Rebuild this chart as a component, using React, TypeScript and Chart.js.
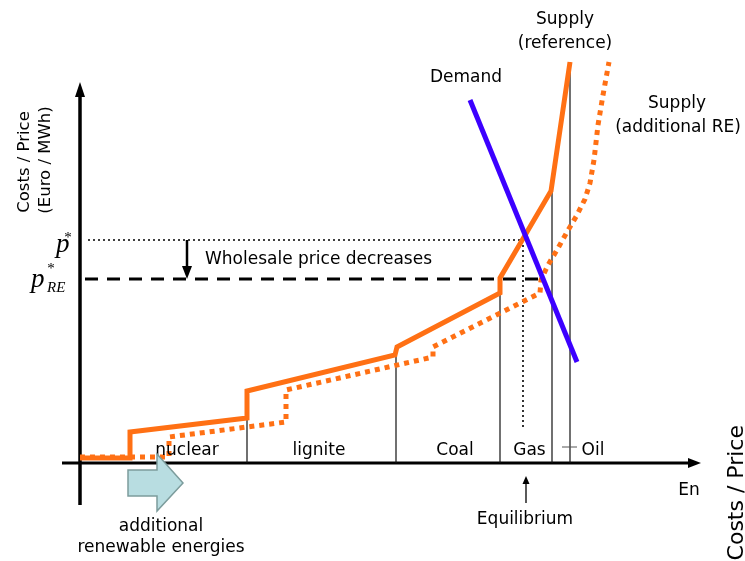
import React, { useEffect, useRef } from 'react';
import { Chart, registerables } from 'chart.js';

Chart.register(...registerables);

// ---- Data (quantity on x, price on y; origin at the axes' crossing) ----
const refQuantity = [0, 50, 50, 167, 167, 315, 317, 420, 420, 471, 490];
const refPrice = [5, 5, 31, 45, 72, 108, 116, 170, 185, 272, 401];

const reQuantity = [0, 89, 89, 206, 206, 353, 353, 460, 461, 468, 477, 487, 497, 505, 510, 514, 518, 523, 529];
const rePrice = [6, 6, 26, 41, 73, 106, 116, 170, 183, 198, 213, 231, 248, 264, 280, 303, 338, 368, 401];

const demandQuantity = [390, 497];
const demandPrice = [363, 101];

const priceRefEq = 223; // p*
const priceReEq = 184; // p*_RE
const quantityEq = 443;

const plantBoundQuantity = [167, 316, 420, 472, 490];
const plantBoundTop = [45, 108, 170, 271, 401];
const plantLabels = ['nuclear', 'lignite', 'Coal', 'Gas', 'Oil'];
const plantLabelQuantity = [107, 239, 375, 449.5, 513];

const ORANGE = '#ff7014';
const BLUE = '#3c00ff';

const pts = (q: number[], p: number[]) => q.map((x, i) => ({ x, y: p[i] }));

const line = (data: { x: number; y: number }[], extra: any) => ({
  data,
  showLine: true,
  pointRadius: 0,
  pointHoverRadius: 0,
  fill: false,
  tension: 0,
  borderJoinStyle: 'miter',
  ...extra,
});

const annotationPlugin = {
  id: 'meritAnnotations',
  beforeDatasetsDraw(chart: any) {
    const { ctx, scales } = chart;
    const X = (v: number) => scales.x.getPixelForValue(v);
    const Y = (v: number) => scales.y.getPixelForValue(v);
    ctx.save();
    ctx.strokeStyle = '#000';
    ctx.fillStyle = '#000';
    // y axis
    ctx.lineWidth = 3.5;
    ctx.beginPath();
    ctx.moveTo(X(0), Y(-42));
    ctx.lineTo(X(0), Y(368));
    ctx.stroke();
    ctx.beginPath();
    ctx.moveTo(X(0), Y(381));
    ctx.lineTo(X(-5), Y(366));
    ctx.lineTo(X(5), Y(366));
    ctx.closePath();
    ctx.fill();
    // x axis
    ctx.lineWidth = 3;
    ctx.beginPath();
    ctx.moveTo(X(-18), Y(0));
    ctx.lineTo(X(610), Y(0));
    ctx.stroke();
    ctx.beginPath();
    ctx.moveTo(X(621), Y(0));
    ctx.lineTo(X(608), Y(5));
    ctx.lineTo(X(608), Y(-5));
    ctx.closePath();
    ctx.fill();
    ctx.restore();
  },
  afterDatasetsDraw(chart: any) {
    const { ctx, scales } = chart;
    const X = (v: number) => scales.x.getPixelForValue(v);
    const Y = (v: number) => scales.y.getPixelForValue(v);
    ctx.save();
    ctx.fillStyle = '#000';
    const sans = '"DejaVu Sans", Verdana, sans-serif';
    const text = (t: string, q: number, p: number, size = 17, align: CanvasTextAlign = 'center') => {
      ctx.font = `${size}px ${sans}`;
      ctx.textAlign = align;
      ctx.textBaseline = 'alphabetic';
      ctx.fillText(t, X(q), Y(p));
    };
    const rot = (t: string, q: number, p: number, size: number, align: CanvasTextAlign = 'center') => {
      ctx.save();
      ctx.translate(X(q), Y(p));
      ctx.rotate(-Math.PI / 2);
      ctx.font = `${size}px ${sans}`;
      ctx.textAlign = align;
      ctx.textBaseline = 'alphabetic';
      ctx.fillText(t, 0, 0);
      ctx.restore();
    };

    // curve labels
    text('Supply', 485, 439);
    text('(reference)', 485, 415);
    text('Demand', 386, 381);
    text('Supply', 597, 355);
    text('(additional RE)', 598, 331);

    // plant labels
    plantLabels.forEach((l, i) => text(l, plantLabelQuantity[i], 8));
    // Oil tick
    ctx.lineWidth = 1;
    ctx.strokeStyle = '#555';
    ctx.beginPath();
    ctx.moveTo(X(482), Y(16));
    ctx.lineTo(X(497), Y(16));
    ctx.stroke();

    text('Wholesale price decreases', 125, 199, 17, 'left');
    text('En', 609, -32, 17, 'center');
    text('Equilibrium', 445, -61);
    text('additional', 81, -68);
    text('renewable energies', 81, -89);

    // y-axis titles
    rot('Costs / Price', -51, 301, 16.5);
    rot('(Euro / MWh)', -30, 303, 16.5);
    rot('Costs / Price', 663, 38, 22, 'right');

    // p* labels
    ctx.font = 'italic 27px "Liberation Serif", "Times New Roman", serif';
    ctx.textAlign = 'left';
    ctx.fillText('p', X(-24), Y(211));
    ctx.fillText('p', X(-49), Y(176));
    ctx.font = '15px "Liberation Serif", serif';
    ctx.textAlign = 'center';
    ctx.fillText('*', X(-12), Y(221));
    ctx.fillText('*', X(-29), Y(190));
    ctx.font = 'italic 15px "Liberation Serif", serif';
    ctx.textAlign = 'left';
    ctx.fillText('RE', X(-33), Y(171));

    // down arrow (price decrease)
    ctx.strokeStyle = '#000';
    ctx.lineWidth = 2.5;
    ctx.beginPath();
    ctx.moveTo(X(107), Y(priceRefEq));
    ctx.lineTo(X(107), Y(priceReEq + 10));
    ctx.stroke();
    ctx.beginPath();
    ctx.moveTo(X(107), Y(priceReEq));
    ctx.lineTo(X(102), Y(priceReEq + 13));
    ctx.lineTo(X(112), Y(priceReEq + 13));
    ctx.closePath();
    ctx.fill();

    // equilibrium arrow
    ctx.lineWidth = 1.3;
    ctx.beginPath();
    ctx.moveTo(X(446), Y(-40));
    ctx.lineTo(X(446), Y(-18));
    ctx.stroke();
    ctx.beginPath();
    ctx.moveTo(X(446), Y(-13));
    ctx.lineTo(X(442.5), Y(-21));
    ctx.lineTo(X(449.5), Y(-21));
    ctx.closePath();
    ctx.fill();

    // additional renewables block arrow
    ctx.beginPath();
    ctx.moveTo(X(48), Y(-7));
    ctx.lineTo(X(77), Y(-7));
    ctx.lineTo(X(77), Y(9));
    ctx.lineTo(X(103), Y(-20));
    ctx.lineTo(X(77), Y(-48));
    ctx.lineTo(X(77), Y(-33));
    ctx.lineTo(X(48), Y(-33));
    ctx.closePath();
    ctx.fillStyle = '#b8dde1';
    ctx.fill();
    ctx.strokeStyle = '#7c9c9c';
    ctx.lineWidth = 1.5;
    ctx.stroke();
    ctx.restore();
  },
};

export default function App() {
  const ref = useRef<HTMLCanvasElement | null>(null);
  useEffect(() => {
    if (!ref.current) return;
    const datasets: any[] = [
      line(pts(demandQuantity, demandPrice), { borderColor: BLUE, borderWidth: 5 }),
      line(pts(refQuantity, refPrice), { borderColor: ORANGE, borderWidth: 5 }),
      line(pts(reQuantity, rePrice), { borderColor: ORANGE, borderWidth: 5, borderDash: [5, 5] }),
      line(pts([8, quantityEq], [priceRefEq, priceRefEq]), { borderColor: '#000', borderWidth: 1.6, borderDash: [2, 3] }),
      line(pts([quantityEq, quantityEq], [priceRefEq, 33]), { borderColor: '#000', borderWidth: 1.6, borderDash: [2, 3] }),
      line(pts([5, 462], [priceReEq, priceReEq]), { borderColor: '#000', borderWidth: 3, borderDash: [13, 9] }),
      ...plantBoundQuantity.map((q, i) =>
        line(pts([q, q], [0, plantBoundTop[i]]), { borderColor: '#111', borderWidth: 1.2 })
      ),
    ];
    const chart = new Chart(ref.current, {
      type: 'scatter',
      data: { datasets },
      options: {
        animation: false,
        responsive: false,
        layout: { padding: 0 },
        events: [],
        scales: {
          x: { type: 'linear', min: -80, max: 665, display: false },
          y: { type: 'linear', min: -98, max: 463, display: false },
        },
        plugins: { legend: { display: false }, tooltip: { enabled: false } },
      },
      plugins: [annotationPlugin],
    } as any);
    return () => chart.destroy();
  }, []);
  return (
    <div style={{ position: 'fixed', left: 0, top: 0, width: 745, height: 561, background: '#fff' }}>
      <canvas ref={ref} width={745} height={561} style={{ width: 745, height: 561, display: 'block' }} />
    </div>
  );
}
